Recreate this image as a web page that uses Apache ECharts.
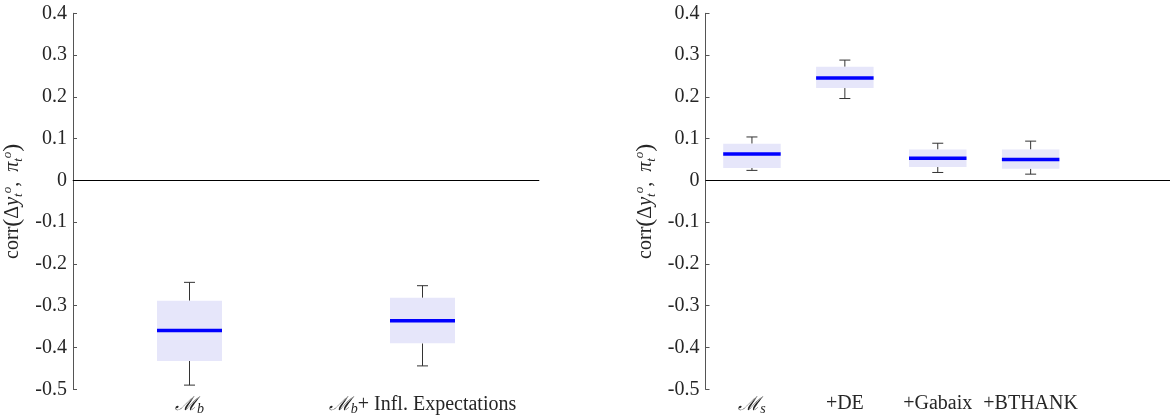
<!DOCTYPE html>
<html>
<head>
<meta charset="utf-8">
<script src="https://cdn.jsdelivr.net/npm/echarts@6/dist/echarts.min.js"></script>
<style>
  html, body { margin: 0; padding: 0; background: #fff; }
  #main { width: 1170px; height: 419px; }
</style>
</head>
<body>
<div id="main"></div>
<script>
// 左图：基准模型
const leftCats = ['ℳ_b', 'ℳ_b+ Infl. Expectations']
const leftLow = [-0.490, -0.444]
const leftQ1 = [-0.432, -0.390]
const leftMedian = [-0.359, -0.336]
const leftQ3 = [-0.288, -0.281]
const leftHigh = [-0.244, -0.252]

// 右图：扩展模型 (最后一个空类别只是为了让坐标轴延伸出去)
const rightCats = ['ℳ_s', '+DE', '+Gabaix', '+BTHANK', '']
const rightLow = [0.024, 0.196, 0.019, 0.015]
const rightQ1 = [0.030, 0.221, 0.032, 0.028]
const rightMedian = [0.063, 0.245, 0.053, 0.050]
const rightQ3 = [0.088, 0.272, 0.074, 0.074]
const rightHigh = [0.104, 0.288, 0.089, 0.094]

const yTicks = { min: -0.5, max: 0.4, interval: 0.1 }

const serif = 'Liberation Serif'
const textColor = '#262626'
const axisColor = '#555'

function boxRows(low, q1, med, q3, high) {
  return low.map(function (v, i) {
    return [i, v, q1[i], med[i], q3[i], high[i]]
  })
}

// 把 ℳ_b 变成富文本
function catLabel(v) {
  if (v.indexOf('_') < 0) return '{t|' + v + '}'
  const sub = v.charAt(v.indexOf('_') + 1)
  const rest = v.slice(v.indexOf('_') + 2)
  return '{m|ℳ}{s|' + sub + '}' + (rest ? '{t|' + rest + '}' : '')
}

const labelRich = {
  t: { fontFamily: serif, fontSize: 20, color: textColor },
  m: { fontFamily: 'DejaVu Serif', fontStyle: 'italic', fontSize: 19, color: textColor },
  s: { fontFamily: serif, fontStyle: 'italic', fontSize: 14, color: textColor, padding: [9, 0, 0, 0] }
}

const nameRich = {
  t: { fontFamily: serif, fontSize: 20, color: textColor, lineHeight: 30 },
  p: { fontFamily: serif, fontSize: 24, color: textColor, lineHeight: 30 },
  i: { fontFamily: serif, fontStyle: 'italic', fontSize: 20, color: textColor, lineHeight: 30 },
  sb: { fontFamily: serif, fontStyle: 'italic', fontSize: 13, color: textColor, padding: [12, 0, 0, 0] },
  sp: { fontFamily: serif, fontStyle: 'italic', fontSize: 13, color: textColor, padding: [0, 0, 11, 0] }
}
const yName = '{t|corr}{p|(}{t|Δ}{i|y}{sb|t}{sp|o}{t|,  }{i|π}{sb|t}{sp|o}{p|)}'

function renderBox(boxW) {
  return function (params, api) {
    const x = api.value(0)
    const pLow = api.coord([x, api.value(1)])
    const pQ1 = api.coord([x, api.value(2)])
    const pMed = api.coord([x, api.value(3)])
    const pQ3 = api.coord([x, api.value(4)])
    const pHigh = api.coord([x, api.value(5)])
    const cx = pMed[0]
    const cap = 5.5
    const wStyle = { stroke: '#333', lineWidth: 1, fill: null }
    return {
      type: 'group',
      children: [
        { type: 'line', shape: { x1: cx, y1: pQ3[1], x2: cx, y2: pHigh[1] }, style: wStyle },
        { type: 'line', shape: { x1: cx - cap, y1: pHigh[1], x2: cx + cap, y2: pHigh[1] }, style: wStyle },
        { type: 'line', shape: { x1: cx, y1: pQ1[1], x2: cx, y2: pLow[1] }, style: wStyle },
        { type: 'line', shape: { x1: cx - cap, y1: pLow[1], x2: cx + cap, y2: pLow[1] }, style: wStyle },
        {
          type: 'rect',
          shape: { x: cx - boxW / 2, y: pQ3[1], width: boxW, height: pQ1[1] - pQ3[1] },
          style: { fill: '#e6e6fa', stroke: null }
        },
        {
          type: 'line',
          shape: { x1: cx - boxW / 2, y1: pMed[1], x2: cx + boxW / 2, y2: pMed[1] },
          style: { stroke: '#0000ff', lineWidth: 3.5 }
        }
      ]
    }
  }
}

function xAxisOf(idx, cats) {
  return {
    type: 'category',
    gridIndex: idx,
    data: cats,
    boundaryGap: true,
    axisLine: { lineStyle: { color: axisColor, width: 1 } },
    axisTick: { inside: true, length: 4, alignWithLabel: true, lineStyle: { color: axisColor } },
    axisLabel: { margin: 4, formatter: catLabel, rich: labelRich, interval: 0 },
    splitLine: { show: false }
  }
}

function yAxisOf(idx) {
  return {
    type: 'value',
    gridIndex: idx,
    min: yTicks.min,
    max: yTicks.max,
    interval: yTicks.interval,
    name: yName,
    nameLocation: 'middle',
    nameGap: 45,
    nameTextStyle: { rich: nameRich },
    axisLine: { show: true, lineStyle: { color: axisColor, width: 1 } },
    axisTick: { show: true, inside: true, length: 4, lineStyle: { color: axisColor } },
    axisLabel: {
      margin: 6,
      fontFamily: serif,
      fontSize: 20,
      color: textColor,
      formatter: function (v) {
        const r = Math.round(v * 10) / 10
        return r === 0 ? '0' : r.toFixed(1)
      }
    },
    splitLine: { show: false }
  }
}

function zeroLine() {
  return {
    silent: true,
    symbol: 'none',
    label: { show: false },
    lineStyle: { color: '#000', type: 'solid', width: 1 },
    data: [{ yAxis: 0 }]
  }
}

const MyChart = echarts.init(document.getElementById('main'))
const option = {
  animation: false,
  grid: [
    { left: 68, top: 13.3, width: 471, height: 376 },
    { left: 705.5, top: 13.3, width: 523, height: 376 }
  ],
  xAxis: [xAxisOf(0, leftCats), xAxisOf(1, rightCats)],
  yAxis: [yAxisOf(0), yAxisOf(1)],
  series: [
    {
      type: 'custom',
      xAxisIndex: 0,
      yAxisIndex: 0,
      renderItem: renderBox(65),
      encode: { x: 0, y: [1, 2, 3, 4, 5] },
      data: boxRows(leftLow, leftQ1, leftMedian, leftQ3, leftHigh),
      markLine: zeroLine(),
      z: 3
    },
    {
      type: 'custom',
      xAxisIndex: 1,
      yAxisIndex: 1,
      renderItem: renderBox(57.5),
      encode: { x: 0, y: [1, 2, 3, 4, 5] },
      data: boxRows(rightLow, rightQ1, rightMedian, rightQ3, rightHigh),
      markLine: zeroLine(),
      z: 3
    }
  ]
}
MyChart.setOption(option)
</script>
</body>
</html>
